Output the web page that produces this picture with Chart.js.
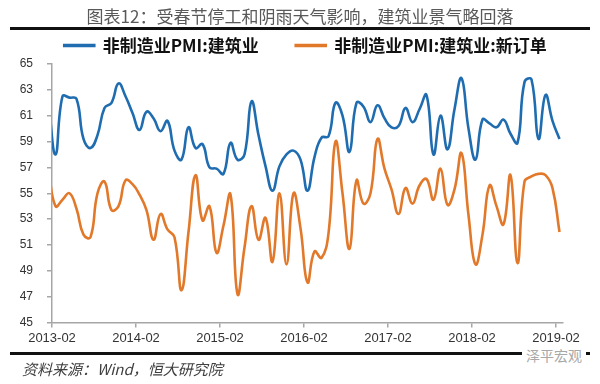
<!DOCTYPE html>
<html>
<head>
<meta charset="utf-8">
<script src="https://cdn.jsdelivr.net/npm/chart.js@4.4.1/dist/chart.umd.min.js"></script>
<style>
    body { margin: 0; background: #fff; }
    #wrap { position: relative; width: 600px; height: 384px; overflow: hidden; }
    #chart { position: absolute; left: 0; top: 0; }
    .title { position: absolute; top: 3px; left: 0; width: 600px; text-align: center; font: 17px "Noto Sans CJK SC"; color: #595959; }
    .rule { position: absolute; left: 10px; width: 580px; height: 3px; background: #111; }
    .source { position: absolute; left: 22px; top: 358px; font: italic 15px "Noto Sans CJK SC"; color: #404040; }
    .mark { position: absolute; left: 522px; top: 345px; padding: 0 4px; background: #fff; font: 14px "Noto Sans CJK SC"; color: #a8a8a8; }
</style>
</head>
<body>
<div id="wrap">
    <canvas id="chart" width="600" height="384"></canvas>
    <div class="title">图表12：受春节停工和阴雨天气影响，建筑业景气略回落</div>
    <div class="rule" style="top:27px"></div>
    <div class="rule" style="top:352px"></div>
    <div class="source">资料来源：Wind，恒大研究院</div>
    <div class="mark">泽平宏观</div>
</div>
<script>
// 2013-01 .. 2019-02, monthly
const months = []
for (let y = 2013; y <= 2019; y++) {
    for (let m = 1; m <= 12; m++) {
        if (y === 2019 && m > 2) break
        months.push(y + '-' + String(m).padStart(2, '0'))
    }
}

const tickLabels = ['2013-02', '2014-02', '2015-02', '2016-02', '2017-02', '2018-02', '2019-02']

// 非制造业PMI:建筑业
const construction = [
    62.0, 58.0, 62.5, 62.4, 62.3, 59.2, 58.5, 59.5, 61.6, 62.0, 63.5, 62.5,
    61.2, 59.9, 61.3, 60.8, 59.8, 60.6, 58.3, 57.6, 60.1, 58.5, 58.8, 57.0,
    56.9, 56.5, 58.9, 57.6, 58.0, 62.1, 59.5, 57.1, 55.2, 57.1, 58.0, 58.3,
    57.6, 55.2, 57.8, 59.3, 59.4, 62.0, 61.0, 58.2, 62.0, 61.7, 60.5, 61.8,
    60.8, 60.1, 60.2, 61.6, 60.5, 61.5, 62.6, 58.0, 61.0, 58.4, 61.5, 63.9,
    60.0, 57.6, 60.7, 60.4, 60.1, 60.7, 59.6, 58.9, 63.6, 63.8, 59.2, 62.6,
    60.6, 59.2,
]

// 非制造业PMI:建筑业:新订单
const newOrders = [
    56.8, 54.0, 54.5, 55.0, 53.8, 51.8, 51.6, 55.0, 55.9, 53.7, 54.0, 56.0,
    55.7, 54.9, 53.7, 51.4, 53.4, 52.2, 51.6, 47.5, 52.0, 56.4, 52.9, 54.0,
    50.4, 52.5, 54.9, 47.2, 50.8, 54.0, 51.4, 53.1, 49.7, 55.0, 49.5, 55.0,
    52.3, 48.1, 50.5, 50.0, 51.9, 59.0, 55.0, 50.7, 56.0, 54.2, 55.0, 59.2,
    56.9, 55.3, 53.4, 55.4, 54.2, 55.6, 56.1, 54.5, 56.9, 54.1, 55.3, 58.1,
    53.3, 49.5, 51.8, 55.6, 54.0, 52.6, 56.4, 49.6, 55.9, 56.3, 56.5, 56.4,
    55.4, 52.0,
]

// x position: months after 2013-02, points sit mid-month
const toPoints = vals => vals.map((v, i) => ({ x: i - 0.5, y: v }))

const axisGrey = '#a6a6a6'

// legend sits a little right of the canvas centre in the original
const legendShift = {
    id: 'legendShift',
    afterLayout(chart) {
        chart.legend.left += 24
        chart.legend.right += 24
    },
}

const ctx = document.querySelector('#chart').getContext('2d')

const pmiChart = new Chart(ctx, {
    type: 'line',
    data: {
        datasets: [
            {
                label: '非制造业PMI:建筑业',
                data: toPoints(construction),
                borderColor: '#1f6db0',
                backgroundColor: '#1f6db0',
                borderWidth: 2.6,
                pointRadius: 0,
                tension: 0.45,
                clip: { left: 0, right: 5, top: 5, bottom: 5 },
            },
            {
                label: '非制造业PMI:建筑业:新订单',
                data: toPoints(newOrders),
                borderColor: '#e2792a',
                backgroundColor: '#e2792a',
                borderWidth: 2.6,
                pointRadius: 0,
                tension: 0.45,
                clip: { left: 0, right: 5, top: 5, bottom: 5 },
            },
        ],
    },
    options: {
        responsive: false,
        animation: false,
        layout: { padding: { left: 0, right: 37, top: 0, bottom: 0 } },
        plugins: {
            tooltip: { enabled: false },
            legend: {
                position: 'top',
                labels: {
                    boxWidth: 30,
                    boxHeight: 1,
                    padding: 37,
                    color: '#111',
                    font: { family: 'Noto Sans CJK SC', size: 17, weight: 'bold' },
                },
            },
        },
        scales: {
            x: {
                type: 'linear',
                min: 0,
                max: 73,
                afterBuildTicks: s => { s.ticks = tickLabels.map((t, i) => ({ value: i * 12 })) },
                afterFit: s => { s.height = 61.5 },
                ticks: {
                    callback: (v, i) => tickLabels[i],
                    maxRotation: 0,
                    padding: 3,
                    color: '#333',
                    font: { family: 'Liberation Sans', size: 13 },
                },
                grid: { drawOnChartArea: false, color: axisGrey, lineWidth: 1.5, tickLength: 5 },
                border: { color: axisGrey, width: 1.5 },
            },
            y: {
                min: 45,
                max: 65,
                afterFit: s => { s.width = 52 },
                ticks: {
                    stepSize: 2,
                    padding: 14,
                    color: '#333',
                    font: { family: 'Liberation Sans', size: 12 },
                },
                grid: { drawOnChartArea: false, color: axisGrey, lineWidth: 1.5, tickLength: 5 },
                border: { color: axisGrey, width: 1.5 },
            },
        },
    },
    plugins: [legendShift],
})
</script>
</body>
</html>
